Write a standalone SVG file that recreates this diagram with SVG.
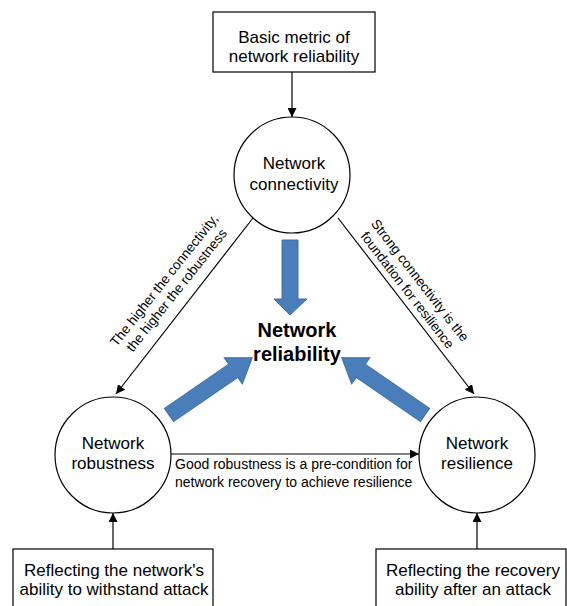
<svg xmlns="http://www.w3.org/2000/svg" width="567" height="606" viewBox="0 0 567 606">
<defs>
<marker id="ah" viewBox="0 0 10 10" refX="10" refY="5" markerWidth="9" markerHeight="9" markerUnits="userSpaceOnUse" orient="auto"><path d="M0,0 L10,5 L0,10 z" fill="#000"/></marker>
<style>
.box{fill:#fff;stroke:#000;stroke-width:1.2}
.c{fill:#fff;stroke:#000;stroke-width:1.2}
.t{font-family:"Liberation Sans",Arial,sans-serif;font-size:17px;fill:#000;text-anchor:middle}
.s{font-family:"Liberation Sans",Arial,sans-serif;font-size:13.5px;fill:#000;text-anchor:middle}
.m{font-family:"Liberation Sans",Arial,sans-serif;font-size:14px;fill:#000;text-anchor:start}
.b{font-family:"Liberation Sans",Arial,sans-serif;font-size:20px;font-weight:bold;fill:#000;text-anchor:middle}
.ln{stroke:#000;stroke-width:1.2;fill:none;marker-end:url(#ah)}
.big{fill:#4A7EBB;stroke:#3F6FA6;stroke-width:1}
</style>
</defs>
<rect width="567" height="606" fill="#fff"/>
<g id="connectors">
<line class="ln" x1="292" y1="72" x2="292" y2="117"/>
<line class="ln" x1="253" y1="218" x2="116" y2="394"/>
<line class="ln" x1="338" y1="218" x2="474" y2="394"/>
<line class="ln" x1="171" y1="454" x2="419" y2="454"/>
<line class="ln" x1="113" y1="549" x2="113" y2="513"/>
<line class="ln" x1="477" y1="549" x2="477" y2="513"/>
</g>
<g id="labels">
<g transform="translate(170,285) rotate(-51.5)">
<text class="s" x="0" y="-3">The higher the connectivity,</text>
<text class="s" x="0" y="13">the higher the robustness</text>
</g>
<g transform="translate(414,285) rotate(52.3)">
<text class="s" x="0" y="-3">Strong connectivity is the</text>
<text class="s" x="0" y="13">foundation for resilience</text>
</g>
<text class="m" x="175" y="469">Good robustness is a pre-condition for</text>
<text class="m" x="175" y="487">network recovery to achieve resilience</text>
</g>
<g id="big-arrows">
<polygon class="big" points="282,240 298,240 298,299 307,299 290,315 274,299 282,299"/>
<g transform="translate(169,415) rotate(-34.5)">
<polygon class="big" points="0,-8 78,-8 78,-16 101,0 78,16 78,8 0,8"/>
</g>
<g transform="translate(425,415) rotate(-145.5)">
<polygon class="big" points="0,-8 78,-8 78,-16 101,0 78,16 78,8 0,8"/>
</g>
</g>
<g id="reliability">
<text class="b" x="297" y="337">Network</text>
<text class="b" x="297" y="361">reliability</text>
</g>
<g id="basic-metric">
<rect class="box" x="213" y="12" width="162" height="60"/>
<text class="t" x="294" y="43">Basic metric of</text>
<text class="t" x="294" y="62">network reliability</text>
</g>
<g id="connectivity">
<circle class="c" cx="292" cy="175" r="58"/>
<text class="t" x="294" y="169">Network</text>
<text class="t" x="294" y="190">connectivity</text>
</g>
<g id="robustness">
<circle class="c" cx="113" cy="455" r="58"/>
<text class="t" x="113" y="449">Network</text>
<text class="t" x="113" y="469">robustness</text>
</g>
<g id="resilience">
<circle class="c" cx="477" cy="455" r="58"/>
<text class="t" x="477" y="449">Network</text>
<text class="t" x="477" y="469">resilience</text>
</g>
<g id="withstand">
<rect class="box" x="13" y="549" width="200" height="70"/>
<text class="t" x="114" y="576">Reflecting the network's</text>
<text class="t" x="114" y="595">ability to withstand attack</text>
</g>
<g id="recovery">
<rect class="box" x="376" y="549" width="190" height="70"/>
<text class="t" x="473" y="576">Reflecting the recovery</text>
<text class="t" x="473" y="595">ability after an attack</text>
</g>
</svg>
